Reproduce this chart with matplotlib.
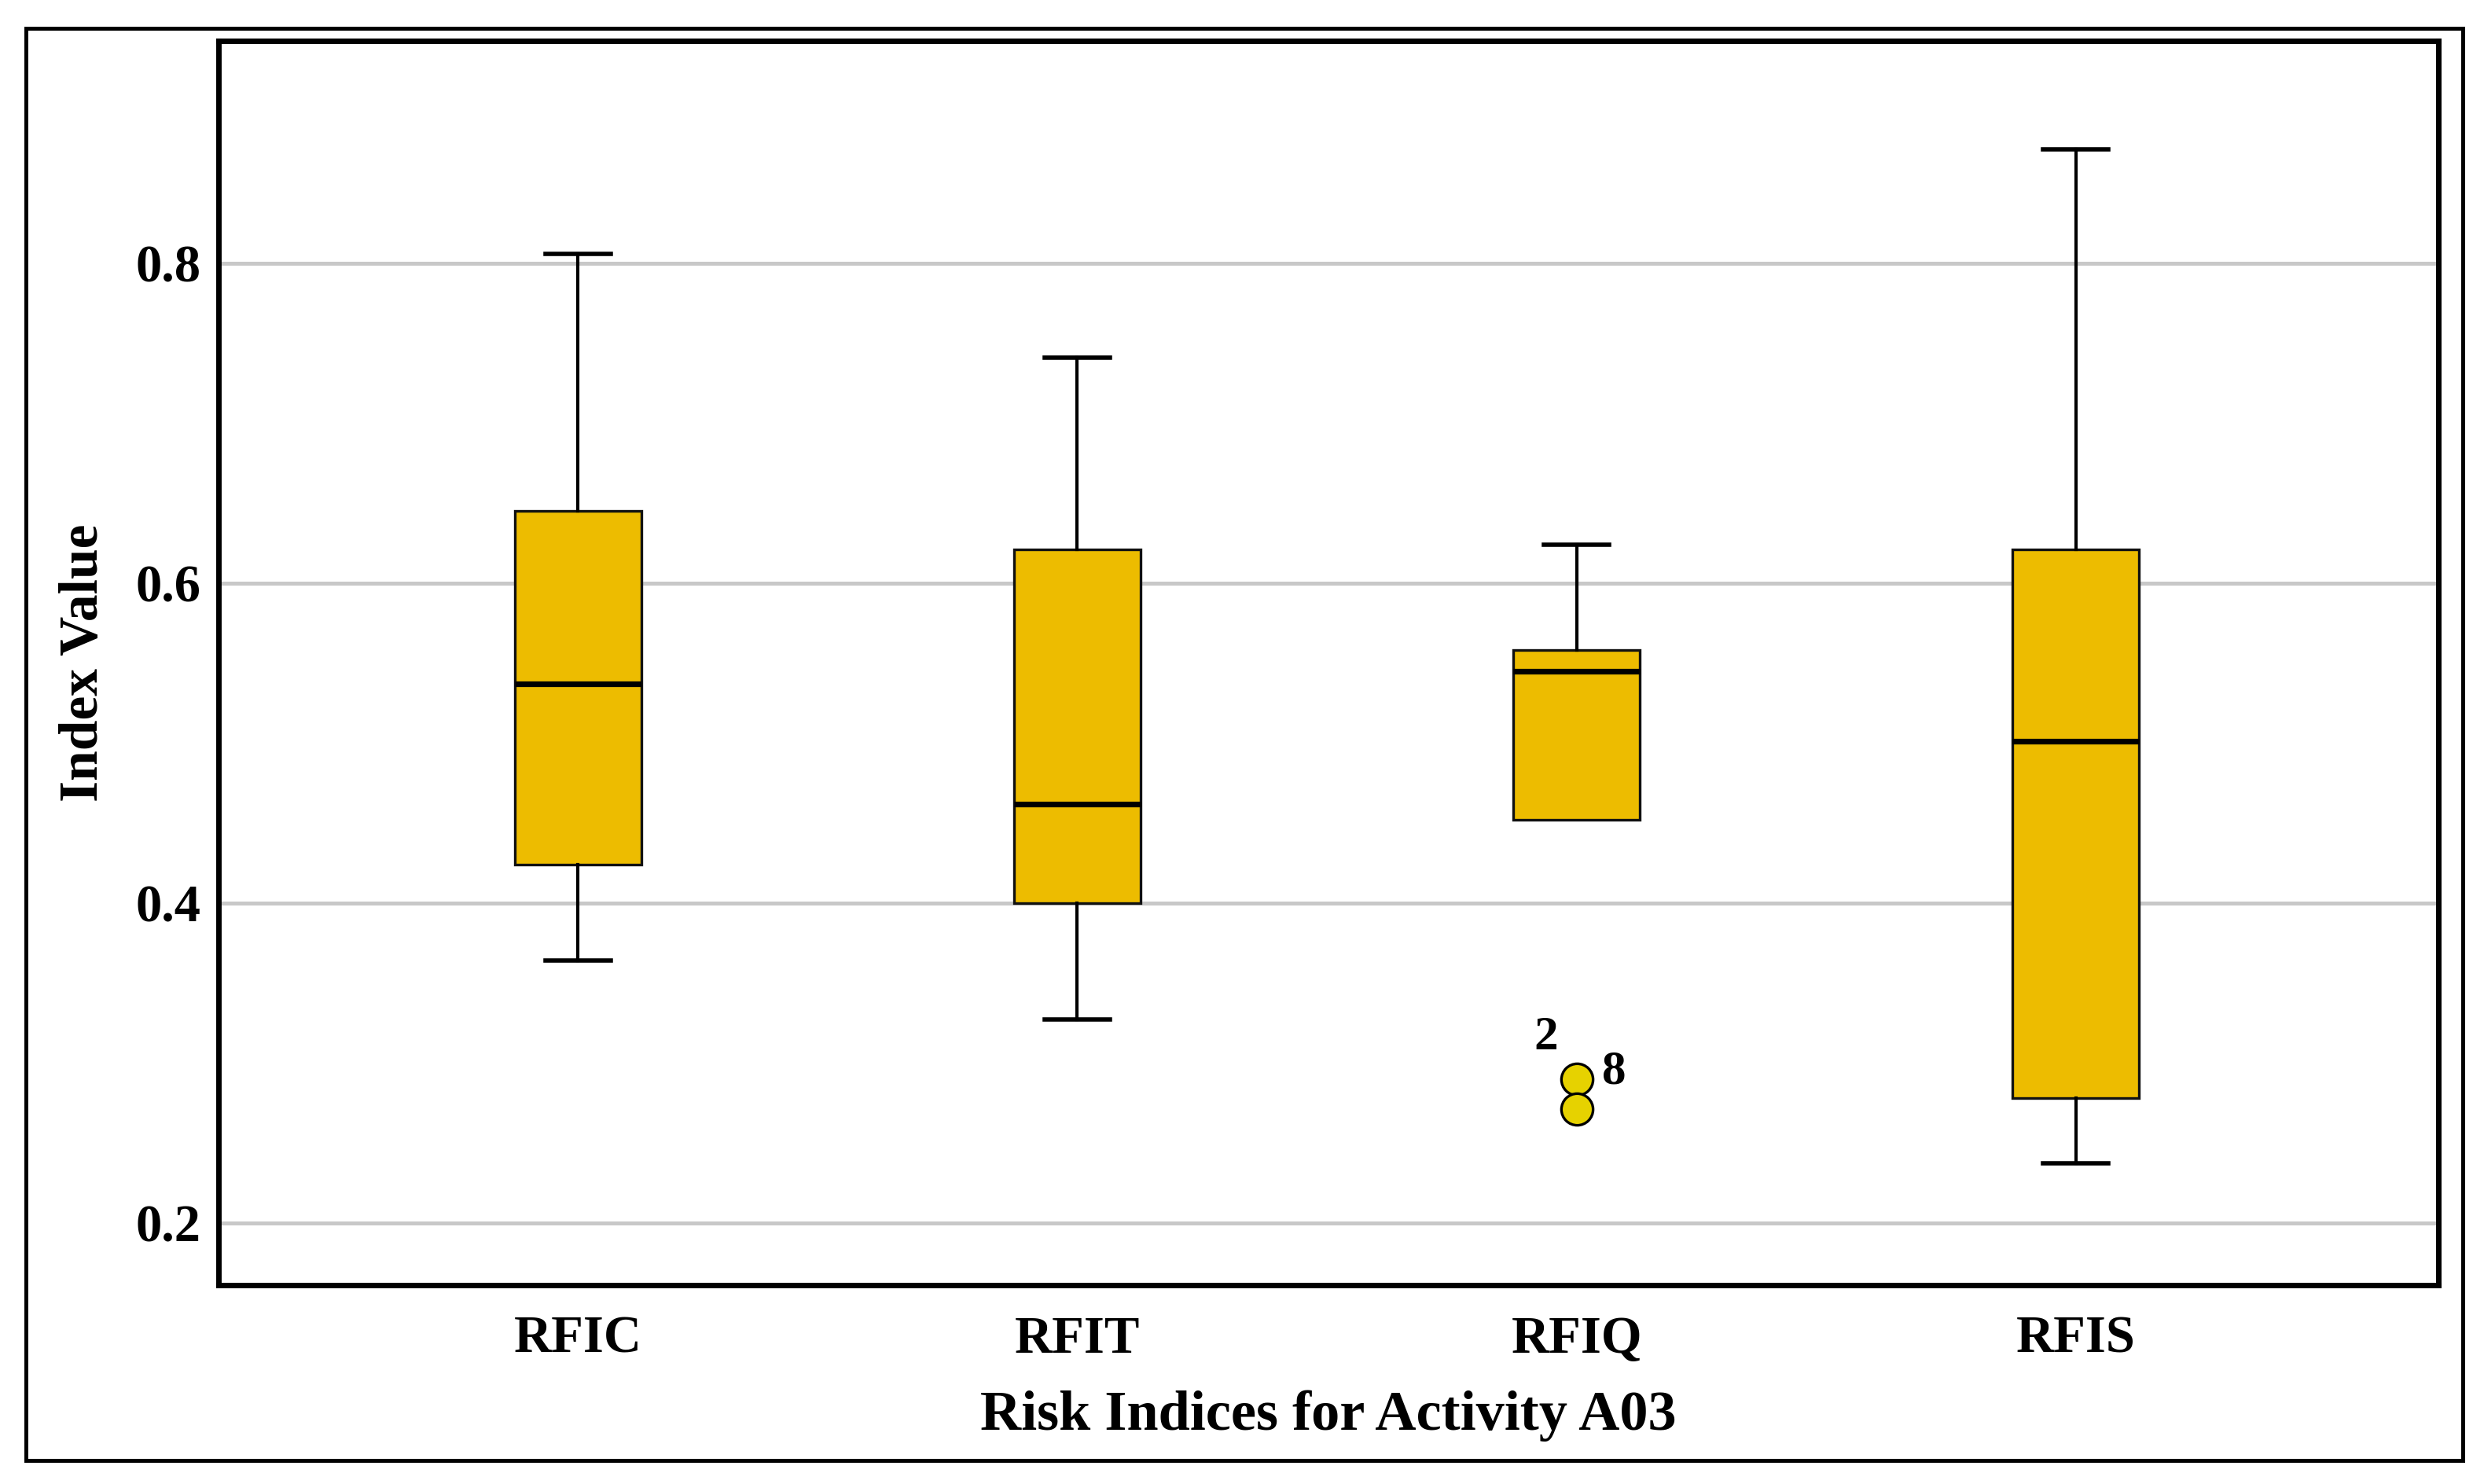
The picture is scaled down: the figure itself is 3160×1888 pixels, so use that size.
import matplotlib
matplotlib.use('Agg')
import matplotlib.pyplot as plt
from matplotlib.patches import Rectangle

plt.rcParams['font.family'] = ['Liberation Serif', 'DejaVu Serif']
plt.rcParams['font.weight'] = 'bold'

labels     = ['RFIC', 'RFIT', 'RFIQ', 'RFIS']
whisk_low  = [0.364, 0.327, 0.452, 0.237]
q1         = [0.424, 0.400, 0.452, 0.278]
median     = [0.537, 0.462, 0.545, 0.501]
q3         = [0.645, 0.621, 0.558, 0.621]
whisk_high = [0.806, 0.741, 0.624, 0.871]
fliers     = [[], [], [0.290, 0.271], []]
flier_ids  = [[], [], ['2', '8'], []]
yticks     = [0.2, 0.4, 0.6, 0.8]

box_color   = '#EDBC00'
flier_color = '#E6D200'

stats = []
for i in range(len(labels)):
    stats.append({'label': labels[i], 'whislo': whisk_low[i], 'q1': q1[i],
                  'med': median[i], 'q3': q3[i], 'whishi': whisk_high[i],
                  'fliers': fliers[i]})

fig = plt.figure(figsize=(15.8, 9.44), dpi=200, facecolor='w')
ax = fig.add_axes([0.088, 0.134, 0.8936, 0.8385])

bp = ax.bxp(stats, positions=[1, 2, 3, 4], widths=0.254, capwidths=0.13,
            patch_artist=True,
            boxprops=dict(facecolor=box_color, edgecolor='#111111', linewidth=1.2),
            medianprops=dict(color='black', linewidth=2.6),
            whiskerprops=dict(color='black', linewidth=1.5),
            capprops=dict(color='black', linewidth=2.0),
            flierprops=dict(marker='o', markersize=14.5, markerfacecolor=flier_color,
                            markeredgecolor='black', markeredgewidth=1.2))

# no cap where the whisker has zero length
for i in range(len(labels)):
    if whisk_low[i] == q1[i]:
        bp['caps'][2 * i].set_visible(False)
    if whisk_high[i] == q3[i]:
        bp['caps'][2 * i + 1].set_visible(False)

# case labels of the outliers
offsets = [(-14, 19), (17, 17)]
for i in range(len(labels)):
    for j in range(len(fliers[i])):
        ax.annotate(flier_ids[i][j], (i + 1, fliers[i][j]), xytext=offsets[j],
                    textcoords='offset points', ha='center', va='center',
                    fontsize=22, fontweight='bold')

ax.set_xlim(0.28, 4.726)
ax.set_ylim(0.161, 0.939)
ax.set_yticks(yticks)
ax.set_yticklabels(['%.1f' % v for v in yticks])
ax.yaxis.grid(True, color='#C8C8C8', linewidth=1.8)
ax.set_axisbelow(True)
ax.tick_params(axis='both', length=0, labelsize=24)
ax.tick_params(axis='y', pad=8)
ax.tick_params(axis='x', pad=14)
for s in ax.spines.values():
    s.set_linewidth(2.5)
    s.set_color('black')

ax.set_xlabel('Risk Indices for Activity A03', fontsize=26, fontweight='bold', labelpad=12)
ax.set_ylabel('Index Value', fontsize=25, fontweight='bold', labelpad=12)

# outer frame around the whole picture
fig.patches.append(Rectangle((0.0104, 0.0159), 0.981, 0.965, transform=fig.transFigure,
                             fill=False, edgecolor='black', linewidth=1.8))

fig.savefig('out.png', dpi=200, facecolor='w')
